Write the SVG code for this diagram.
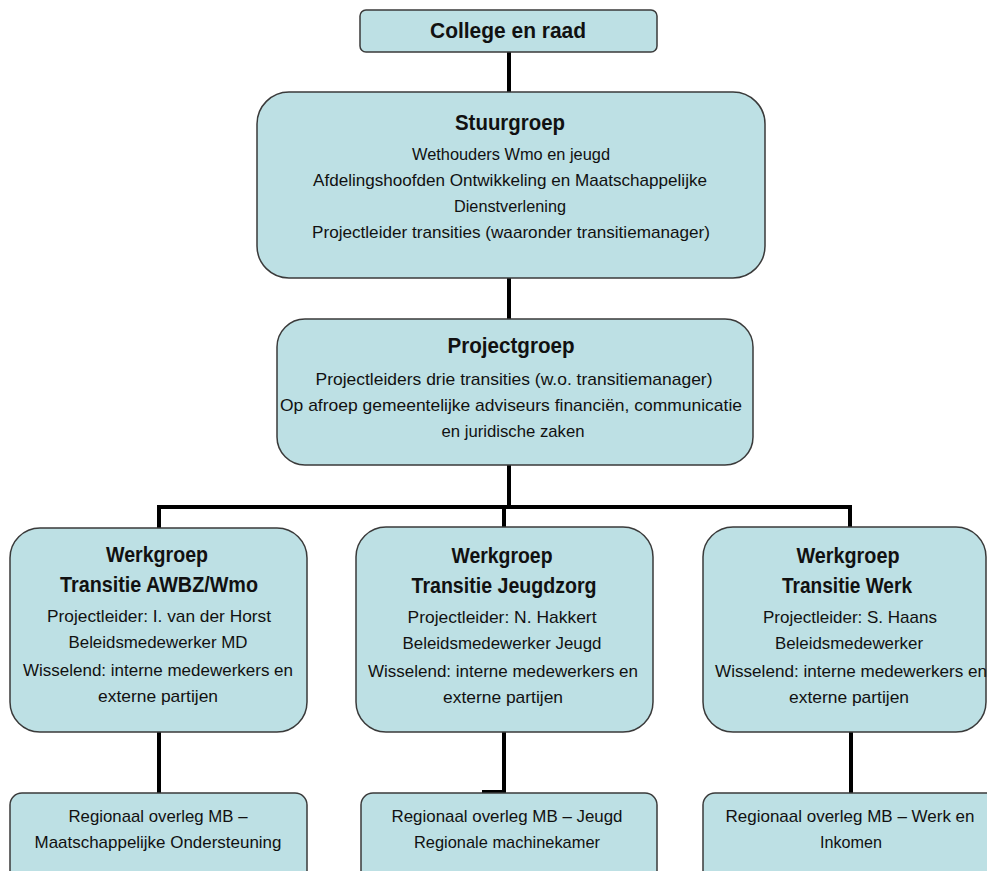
<svg xmlns="http://www.w3.org/2000/svg" width="987" height="871" viewBox="0 0 987 871">
<style>
.box{fill:#bde0e4;stroke:#3a3a3a;stroke-width:1.5}
.t{font-family:"Liberation Sans Narrow","Liberation Sans",Arial,sans-serif;font-size:17px;fill:#111;text-anchor:middle}
.b{font-family:"Liberation Sans Narrow","Liberation Sans",Arial,sans-serif;font-size:22px;font-weight:bold;fill:#111;text-anchor:middle}
.c{fill:none;stroke:#000;stroke-width:4}
</style>
<rect width="987" height="871" fill="#fff"/>
<g id="connectors">
<path class="c" d="M509,52V92"/>
<path class="c" d="M509,278V319"/>
<path class="c" d="M509,465V507"/>
<path class="c" d="M159,528V507H850V528"/>
<path class="c" d="M504,507V527"/>
<path class="c" d="M159,732V793"/>
<path class="c" d="M504,732V792H482"/>
<path class="c" d="M851,732V793"/>
</g>
<g id="college">
<rect class="box" x="360" y="10" width="297" height="42" rx="6"/>
<text class="b" x="508" y="38" textLength="156" lengthAdjust="spacingAndGlyphs">College en raad</text>
</g>
<g id="stuurgroep">
<rect class="box" x="257" y="92" width="508" height="186" rx="32"/>
<text class="b" x="510" y="130" textLength="110" lengthAdjust="spacingAndGlyphs">Stuurgroep</text>
<text class="t" x="511" y="160" textLength="198" lengthAdjust="spacingAndGlyphs">Wethouders Wmo en jeugd</text>
<text class="t" x="510" y="186" textLength="394" lengthAdjust="spacingAndGlyphs">Afdelingshoofden Ontwikkeling en Maatschappelijke</text>
<text class="t" x="510" y="212" textLength="112" lengthAdjust="spacingAndGlyphs">Dienstverlening</text>
<text class="t" x="511" y="238" textLength="398" lengthAdjust="spacingAndGlyphs">Projectleider transities (waaronder transitiemanager)</text>
</g>
<g id="projectgroep">
<rect class="box" x="277" y="319" width="476" height="146" rx="28"/>
<text class="b" x="511" y="353" textLength="127" lengthAdjust="spacingAndGlyphs">Projectgroep</text>
<text class="t" x="514" y="385" textLength="397" lengthAdjust="spacingAndGlyphs">Projectleiders drie transities (w.o. transitiemanager)</text>
<text class="t" x="511" y="411" textLength="462" lengthAdjust="spacingAndGlyphs">Op afroep gemeentelijke adviseurs financiën, communicatie</text>
<text class="t" x="513" y="437" textLength="143" lengthAdjust="spacingAndGlyphs">en juridische zaken</text>
</g>
<g id="werkgroep-awbz">
<rect class="box" x="10" y="528" width="297" height="204" rx="30"/>
<text class="b" x="157" y="562" textLength="102" lengthAdjust="spacingAndGlyphs">Werkgroep</text>
<text class="b" x="159" y="592" textLength="198" lengthAdjust="spacingAndGlyphs">Transitie AWBZ/Wmo</text>
<text class="t" x="159" y="622" textLength="224" lengthAdjust="spacingAndGlyphs">Projectleider: I. van der Horst</text>
<text class="t" x="158" y="648" textLength="179" lengthAdjust="spacingAndGlyphs">Beleidsmedewerker MD</text>
<text class="t" x="158" y="676" textLength="270" lengthAdjust="spacingAndGlyphs">Wisselend: interne medewerkers en</text>
<text class="t" x="158" y="702" textLength="120" lengthAdjust="spacingAndGlyphs">externe partijen</text>
</g>
<g id="werkgroep-jeugdzorg">
<rect class="box" x="356" y="527" width="297" height="205" rx="30"/>
<text class="b" x="502" y="563" textLength="101" lengthAdjust="spacingAndGlyphs">Werkgroep</text>
<text class="b" x="504" y="593" textLength="185" lengthAdjust="spacingAndGlyphs">Transitie Jeugdzorg</text>
<text class="t" x="502" y="623" textLength="189" lengthAdjust="spacingAndGlyphs">Projectleider: N. Hakkert</text>
<text class="t" x="502" y="649" textLength="199" lengthAdjust="spacingAndGlyphs">Beleidsmedewerker Jeugd</text>
<text class="t" x="503" y="677" textLength="270" lengthAdjust="spacingAndGlyphs">Wisselend: interne medewerkers en</text>
<text class="t" x="503" y="703" textLength="120" lengthAdjust="spacingAndGlyphs">externe partijen</text>
</g>
<g id="werkgroep-werk">
<rect class="box" x="703" y="527" width="283" height="205" rx="30"/>
<text class="b" x="848" y="563" textLength="103" lengthAdjust="spacingAndGlyphs">Werkgroep</text>
<text class="b" x="847" y="593" textLength="130" lengthAdjust="spacingAndGlyphs">Transitie Werk</text>
<text class="t" x="850" y="623" textLength="174" lengthAdjust="spacingAndGlyphs">Projectleider: S. Haans</text>
<text class="t" x="849" y="649" textLength="148" lengthAdjust="spacingAndGlyphs">Beleidsmedewerker</text>
<text class="t" x="851" y="677" textLength="272" lengthAdjust="spacingAndGlyphs">Wisselend: interne medewerkers en</text>
<text class="t" x="849" y="703" textLength="120" lengthAdjust="spacingAndGlyphs">externe partijen</text>
</g>
<g id="regio-mo">
<rect class="box" x="10" y="793" width="297" height="100" rx="12"/>
<text class="t" x="158" y="822" textLength="179" lengthAdjust="spacingAndGlyphs">Regionaal overleg MB –</text>
<text class="t" x="158" y="848" textLength="247" lengthAdjust="spacingAndGlyphs">Maatschappelijke Ondersteuning</text>
</g>
<g id="regio-jeugd">
<rect class="box" x="361" y="793" width="296" height="100" rx="12"/>
<text class="t" x="507" y="822" textLength="231" lengthAdjust="spacingAndGlyphs">Regionaal overleg MB – Jeugd</text>
<text class="t" x="507" y="848" textLength="186" lengthAdjust="spacingAndGlyphs">Regionale machinekamer</text>
</g>
<g id="regio-werk">
<rect class="box" x="703" y="793" width="300" height="100" rx="12"/>
<text class="t" x="850" y="822" textLength="249" lengthAdjust="spacingAndGlyphs">Regionaal overleg MB – Werk en</text>
<text class="t" x="851" y="848" textLength="62" lengthAdjust="spacingAndGlyphs">Inkomen</text>
</g>
</svg>
